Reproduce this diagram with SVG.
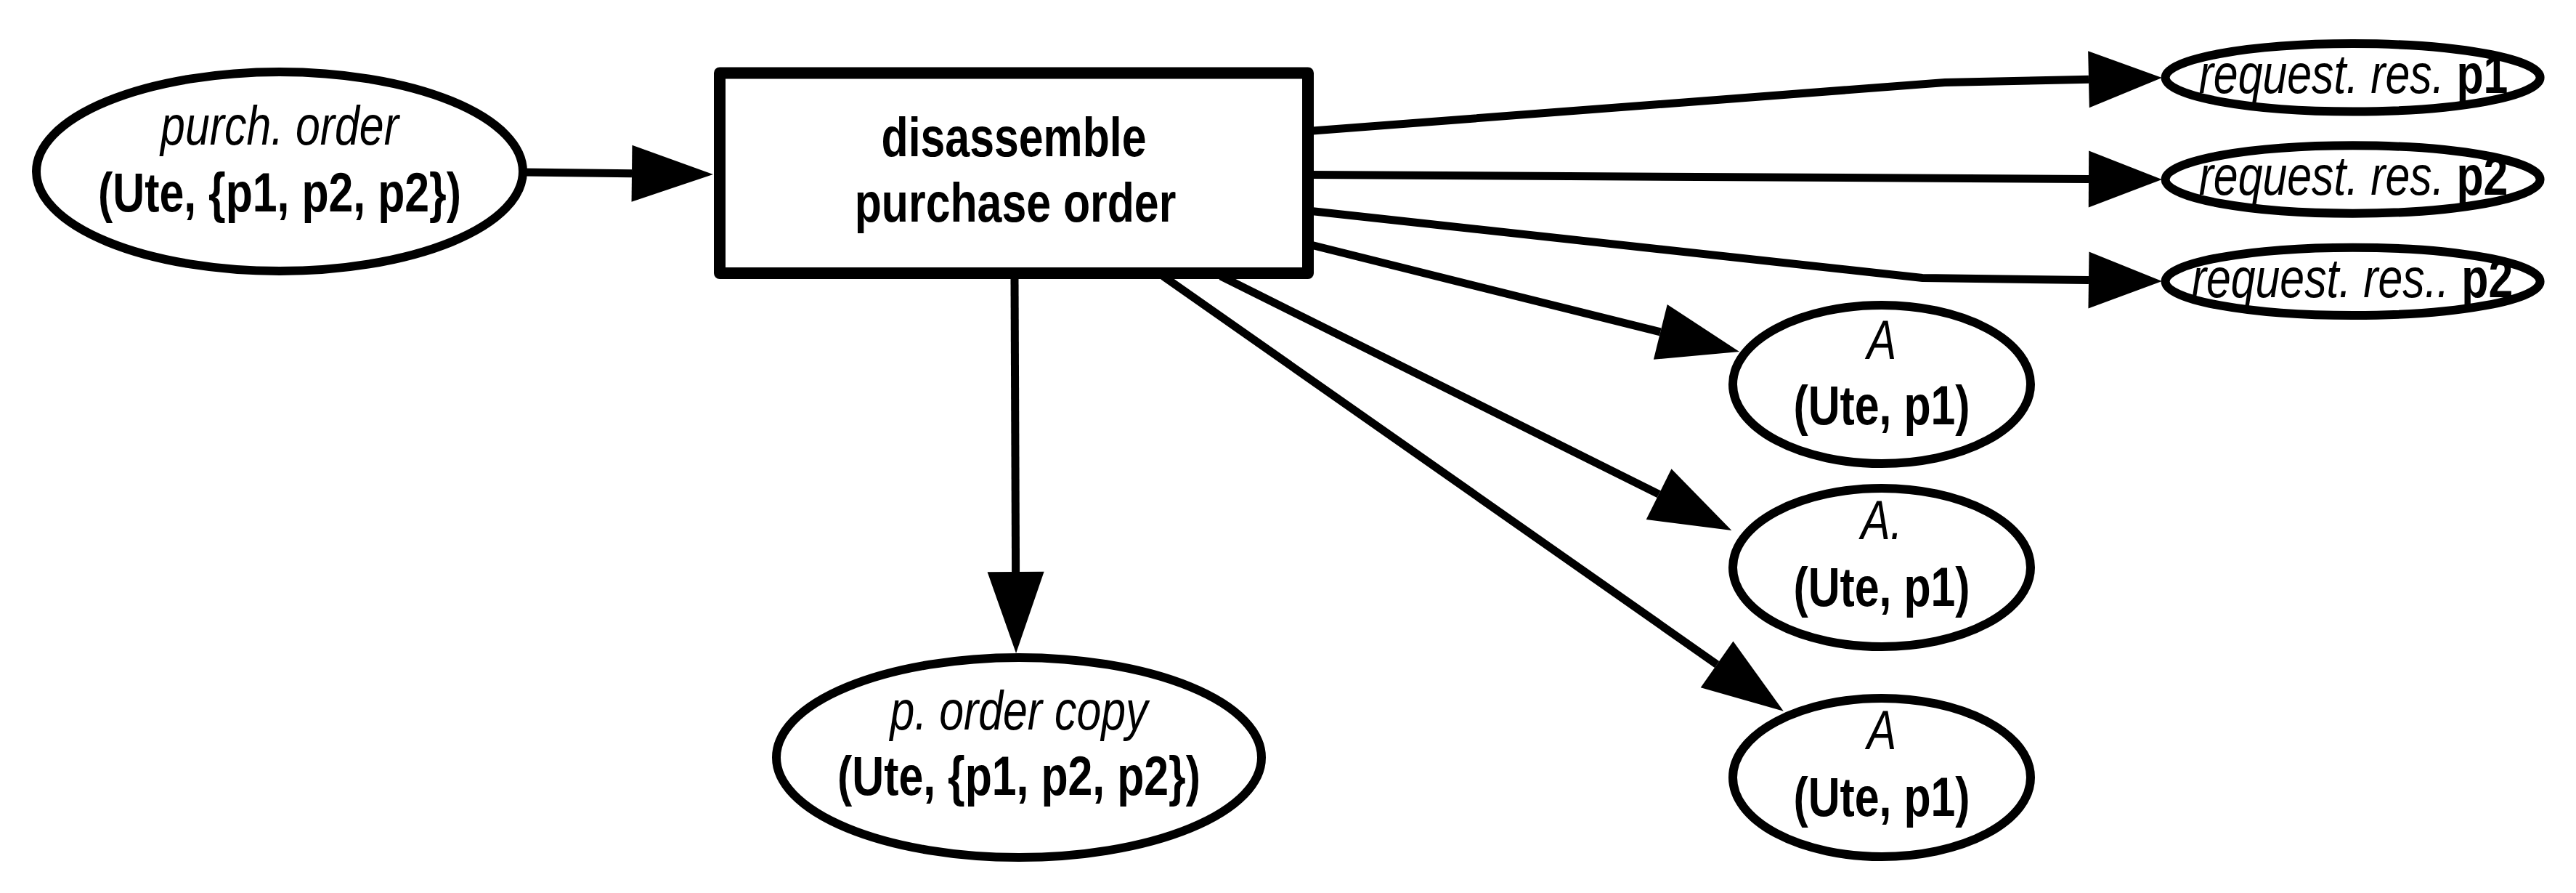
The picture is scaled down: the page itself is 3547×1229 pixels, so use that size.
<svg xmlns="http://www.w3.org/2000/svg" width="3547" height="1229" viewBox="0 0 3547 1229">
<style>
.node{fill:#fff;stroke:#000;stroke-width:12}
.proc{fill:#fff;stroke:#000;stroke-width:16;stroke-linejoin:round}
.edge{fill:none;stroke:#000;stroke-width:11}
text{font-family:"Liberation Sans",Arial,sans-serif;font-size:76px;fill:#000;text-anchor:middle}
.i{font-style:italic}
.b{font-weight:bold}
</style>
<defs>
<marker id="ah" markerUnits="userSpaceOnUse" markerWidth="120" markerHeight="80" refX="0" refY="39" orient="auto" overflow="visible"><path d="M0,0 L112,39 L0,78 z" fill="#000"/></marker>
<marker id="ahs" markerUnits="userSpaceOnUse" markerWidth="120" markerHeight="80" refX="0" refY="39" orient="auto" overflow="visible"><path d="M0,0 L101,39 L0,78 z" fill="#000"/></marker>
</defs>
<rect width="3547" height="1229" fill="#fff"/>
<g id="connectors">
<path class="edge" d="M720,237 L870,238.7" marker-end="url(#ah)"/>
<path class="edge" d="M1397,384 L1398.6,787" marker-end="url(#ah)"/>
<path class="edge" d="M1801,180.5 L2678,113.5 L2876,109.2" marker-end="url(#ahs)"/>
<path class="edge" d="M1801,240.5 L2876,246.4" marker-end="url(#ahs)"/>
<path class="edge" d="M1801,290 L2647,382.5 L2876,385.6" marker-end="url(#ahs)"/>
<path class="edge" d="M1801,336 L2286.3,456.9" marker-end="url(#ah)"/>
<path class="edge" d="M1681,380 L2284.1,680.2" marker-end="url(#ah)"/>
<path class="edge" d="M1601.5,380 L2364.1,914.4" marker-end="url(#ah)"/>
</g>
<g id="purch-order">
<ellipse class="node" cx="385" cy="236" rx="335" ry="137"/>
<text class="i" transform="translate(385,199) scale(0.8,1)">purch. order</text>
<text class="b" transform="translate(385,291) scale(0.8,1)">(Ute, {p1, p2, p2})</text>
</g>
<g id="disassemble">
<rect class="proc" x="991" y="100.5" width="810" height="275.5"/>
<text class="b" transform="translate(1396,215) scale(0.8,1)">disassemble</text>
<text class="b" transform="translate(1398,305) scale(0.8,1)">purchase order</text>
</g>
<g id="order-copy">
<ellipse class="node" cx="1403" cy="1042.5" rx="334" ry="137.5"/>
<text class="i" transform="translate(1403,1004) scale(0.8,1)">p. order copy</text>
<text class="b" transform="translate(1403,1094) scale(0.8,1)">(Ute, {p1, p2, p2})</text>
</g>
<g id="req1">
<ellipse class="node" cx="3239.6" cy="106.8" rx="258" ry="46.7"/>
<text transform="translate(3240.5,128) scale(0.8,1)"><tspan class="i">request. res. </tspan><tspan class="b">p1</tspan></text>
</g>
<g id="req2">
<ellipse class="node" cx="3239.6" cy="247" rx="258" ry="46.7"/>
<text transform="translate(3240.5,268) scale(0.8,1)"><tspan class="i">request. res. </tspan><tspan class="b">p2</tspan></text>
</g>
<g id="req3">
<ellipse class="node" cx="3239.6" cy="387.4" rx="258" ry="46.7"/>
<text transform="translate(3239,408.5) scale(0.8,1)"><tspan class="i">request. res.. </tspan><tspan class="b">p2</tspan></text>
</g>
<g id="a1">
<ellipse class="node" cx="2591" cy="529" rx="205" ry="109"/>
<text class="i" transform="translate(2591,493.7) scale(0.8,1)">A</text>
<text class="b" transform="translate(2591,584) scale(0.8,1)">(Ute, p1)</text>
</g>
<g id="a2">
<ellipse class="node" cx="2591" cy="781" rx="205" ry="109"/>
<text class="i" transform="translate(2591,742.4) scale(0.8,1)">A.</text>
<text class="b" transform="translate(2591,834) scale(0.8,1)">(Ute, p1)</text>
</g>
<g id="a3">
<ellipse class="node" cx="2591" cy="1070" rx="205" ry="109"/>
<text class="i" transform="translate(2591,1031.3) scale(0.8,1)">A</text>
<text class="b" transform="translate(2591,1122.5) scale(0.8,1)">(Ute, p1)</text>
</g>
</svg>
